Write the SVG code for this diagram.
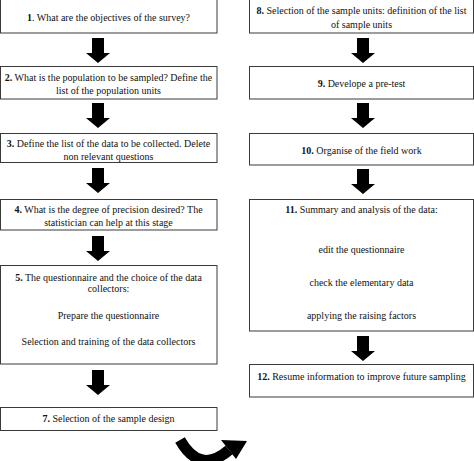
<svg xmlns="http://www.w3.org/2000/svg" width="474" height="461" viewBox="0 0 474 461">
<style>
.box{fill:#fff;stroke:#3a3a3a;stroke-width:1}
text{font-family:"Liberation Serif","Times New Roman",serif;font-size:10px;fill:#111;text-anchor:middle}
.n{font-weight:bold}
.arr{fill:#000}
</style>
<defs>
<polygon id="down" points="-6,0 6,0 6,15 12,15 0,25 -12,15 -6,15"/>
</defs>
<rect width="474" height="461" fill="#fff"/>
<g id="n1"><rect class="box" x="0.5" y="-20" width="216.5" height="53"/>
<text x="108.5" y="21"><tspan class="n">1</tspan>. What are the objectives of the survey?</text></g>
<g id="n2"><rect class="box" x="0.5" y="66.5" width="216.5" height="32.5"/>
<text x="108.5" y="81"><tspan class="n">2.</tspan> What is the population to be sampled? Define the</text>
<text x="108.5" y="94">list of the population units</text></g>
<g id="n3"><rect class="box" x="0.5" y="133.5" width="216.5" height="29"/>
<text x="108.5" y="147"><tspan class="n">3.</tspan> Define the list of the data to be collected. Delete</text>
<text x="108.5" y="160">non relevant questions</text></g>
<g id="n4"><rect class="box" x="0.5" y="199.5" width="216.5" height="30.5"/>
<text x="108.5" y="213"><tspan class="n">4.</tspan> What is the degree of precision desired? The</text>
<text x="108.5" y="226">statistician can  help at this stage</text></g>
<g id="n5"><rect class="box" x="0.5" y="265.5" width="216.5" height="98.5"/>
<text x="108.5" y="281"><tspan class="n">5.</tspan> The questionnaire and the choice of the data</text>
<text x="108.5" y="292">collectors:</text>
<text x="108.5" y="319">Prepare the questionnaire</text>
<text x="108.5" y="345">Selection and training of the data collectors</text></g>
<g id="n7"><rect class="box" x="0.5" y="407.5" width="216.5" height="23"/>
<text x="108.5" y="422"><tspan class="n">7.</tspan> Selection of the sample design</text></g>
<g id="n8"><rect class="box" x="249.5" y="-20" width="224" height="53"/>
<text x="361.5" y="14"><tspan class="n">8.</tspan> Selection of the sample units: definition of the list</text>
<text x="361.5" y="28">of sample units</text></g>
<g id="n9"><rect class="box" x="249.5" y="66.5" width="224" height="32.5"/>
<text x="361.5" y="87"><tspan class="n">9.</tspan> Develope a pre-test</text></g>
<g id="n10"><rect class="box" x="249.5" y="133.5" width="224" height="31.5"/>
<text x="361.5" y="154"><tspan class="n">10.</tspan> Organise of the field work</text></g>
<g id="n11"><rect class="box" x="249.5" y="199.5" width="224" height="131.5"/>
<text x="361.5" y="213"><tspan class="n">11.</tspan> Summary and analysis of the data:</text>
<text x="361.5" y="253">edit the questionnaire</text>
<text x="361.5" y="286">check the elementary data</text>
<text x="361.5" y="319">applying the raising factors</text></g>
<g id="n12"><rect class="box" x="249.5" y="364.5" width="224" height="32.5"/>
<text x="361.5" y="380"><tspan class="n">12.</tspan> Resume information to improve future sampling</text></g>
<g id="connectors" class="arr">
<use href="#down" x="98" y="38"/>
<use href="#down" x="98" y="103"/>
<use href="#down" x="98" y="168"/>
<use href="#down" x="98" y="236"/>
<use href="#down" x="98" y="370"/>
<use href="#down" x="363" y="38"/>
<use href="#down" x="363" y="103"/>
<use href="#down" x="363" y="169"/>
<use href="#down" x="363" y="336"/>
<path d="M180,440 Q200,475 229,450" fill="none" stroke="#000" stroke-width="11"/>
<polygon points="221,440 247,441 236,459"/>
</g>
</svg>
